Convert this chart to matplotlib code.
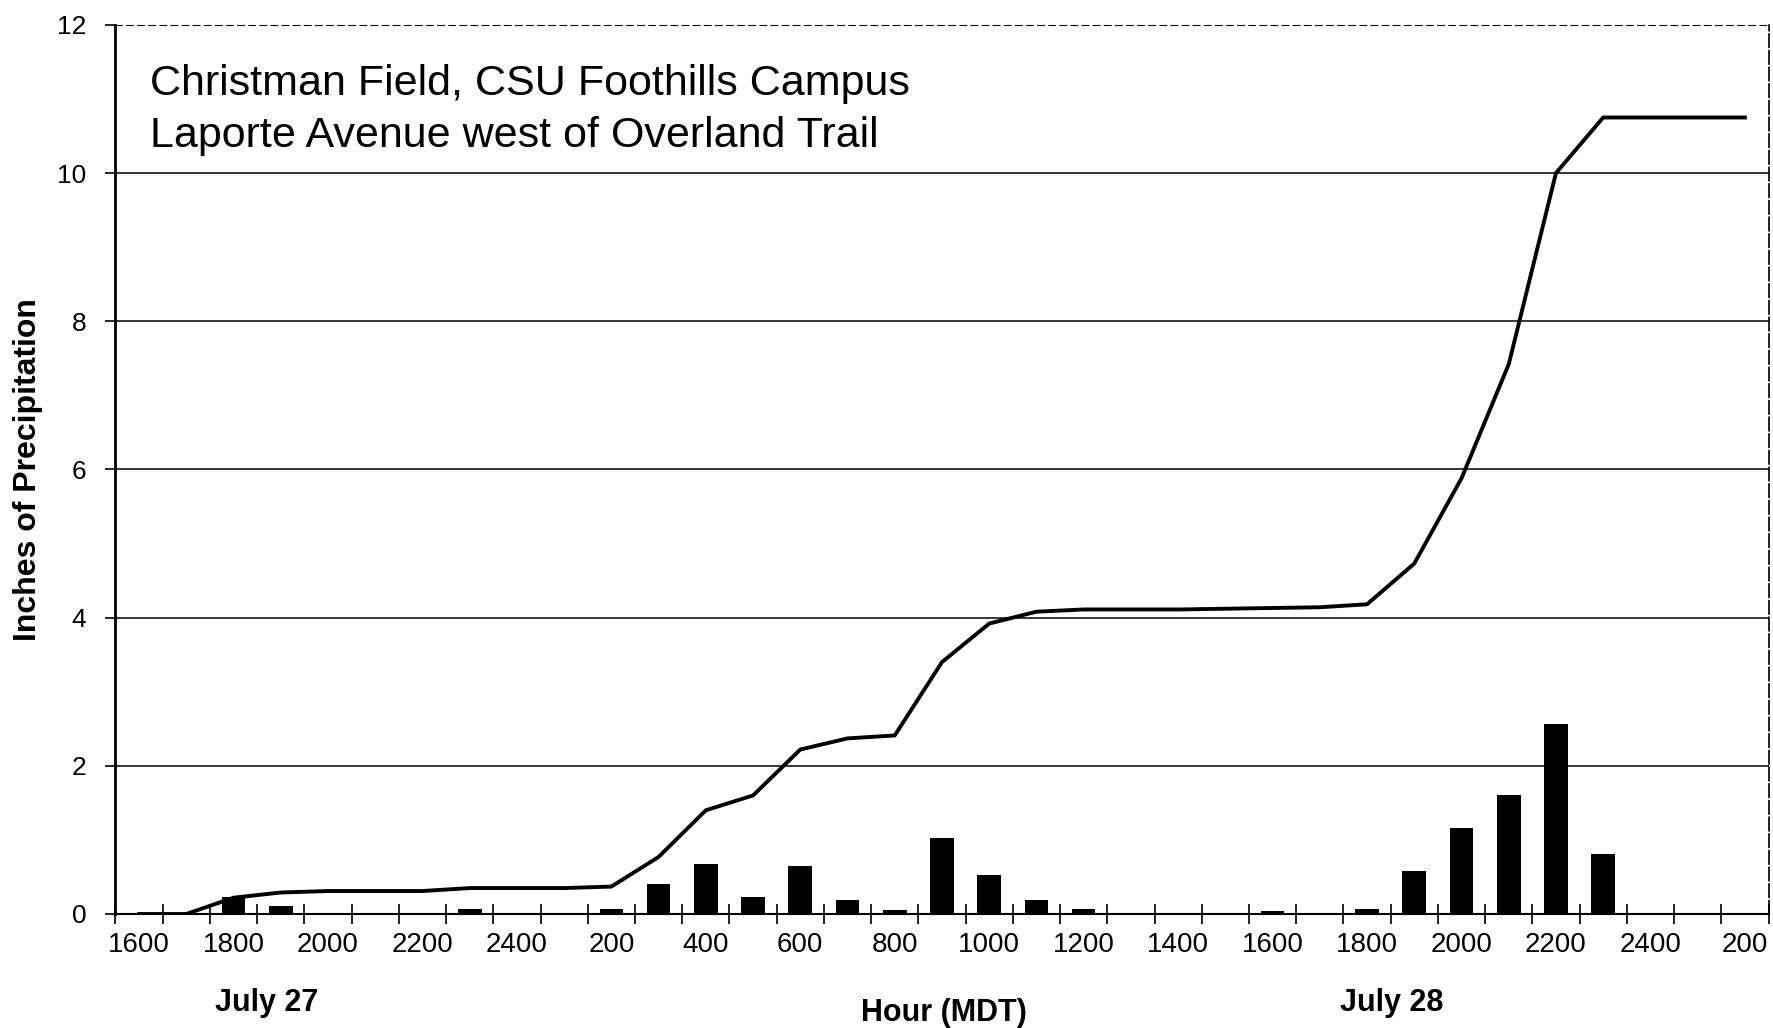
import matplotlib.pyplot as plt
import numpy as np

# --- DATA ---
# hourly categories from 1600 July 27 to 200 July 29
hours = ['1600', '1700', '1800', '1900', '2000', '2100', '2200', '2300', '2400',
         '100', '200', '300', '400', '500', '600', '700', '800', '900', '1000',
         '1100', '1200', '1300', '1400', '1500', '1600', '1700', '1800', '1900',
         '2000', '2100', '2200', '2300', '2400', '100', '200']

hourly_precip = [0.0, 0.0, 0.23, 0.11, 0.0, 0.0, 0.0, 0.07, 0.01,
                 0.0, 0.07, 0.41, 0.67, 0.23, 0.65, 0.19, 0.06, 1.03, 0.52,
                 0.19, 0.07, 0.01, 0.02, 0.0, 0.04, 0.0, 0.07, 0.58,
                 1.16, 1.61, 2.57, 0.81, 0.01, 0.01, 0.02]

cumulative = [0.0, 0.0, 0.22, 0.29, 0.31, 0.31, 0.31, 0.35, 0.35,
              0.35, 0.37, 0.77, 1.40, 1.60, 2.22, 2.37, 2.41, 3.40, 3.92,
              4.08, 4.11, 4.11, 4.11, 4.12, 4.13, 4.14, 4.18, 4.73,
              5.88, 7.42, 10.0, 10.75, 10.75, 10.75, 10.75]

title_lines = ['Christman Field, CSU Foothills Campus',
               'Laporte Avenue west of Overland Trail']

# --- PLOT ---
plt.rcParams['font.family'] = ['Liberation Sans', 'DejaVu Sans']

fig = plt.figure(figsize=(17.74, 10.28), dpi=100)
ax = fig.add_axes([0.0651, 0.1109, 0.9318, 0.8649])

x = np.arange(len(hours))
ax.bar(x, hourly_precip, width=0.5, color='black', zorder=3)
ax.plot(x, cumulative, color='black', linewidth=2.8, zorder=4)

ax.set_xlim(-0.5, len(hours) - 0.5)
ax.set_ylim(0, 12)

# gridlines
for yv in range(2, 12, 2):
    ax.axhline(yv, color='black', linewidth=1.1, zorder=1)

# x ticks: marks between categories, labels every other hour
ax.set_xticks(np.arange(-0.5, len(hours), 1.0))
ax.set_xticklabels([])
ax.tick_params(axis='x', which='major', direction='inout', length=14, width=1.2)
ax.set_xticks(x, minor=True)
ax.set_xticklabels([h if i % 2 == 0 else '' for i, h in enumerate(hours)], minor=True)
ax.tick_params(axis='x', which='minor', length=0, pad=13, labelsize=20)

ax.set_yticks(range(0, 13, 2))
ax.tick_params(axis='y', direction='out', length=7, width=1.2, pad=14, labelsize=19)

ax.spines['left'].set_linewidth(2)
ax.spines['bottom'].set_linewidth(1.5)
ax.spines['top'].set_linewidth(0.8)
ax.spines['top'].set_linestyle((0, (6, 4)))
ax.spines['right'].set_linewidth(1.2)
ax.spines['right'].set_linestyle((0, (8, 2)))

ax.set_ylabel('Inches of Precipitation', fontsize=23, fontweight='bold', labelpad=10)

fig.text(0.532, 0.007, 'Hour (MDT)', fontsize=22, fontweight='bold', ha='center', va='baseline')
fig.text(0.1505, 0.0165, 'July 27', fontsize=22, fontweight='bold', ha='center', va='baseline')
fig.text(0.7845, 0.0165, 'July 28', fontsize=22, fontweight='bold', ha='center', va='baseline')

fig.text(0.0848, 0.9076, title_lines[0], fontsize=31, ha='left', va='baseline')
fig.text(0.0848, 0.8570, title_lines[1], fontsize=31, ha='left', va='baseline')

fig.savefig('out.png', dpi=100)
